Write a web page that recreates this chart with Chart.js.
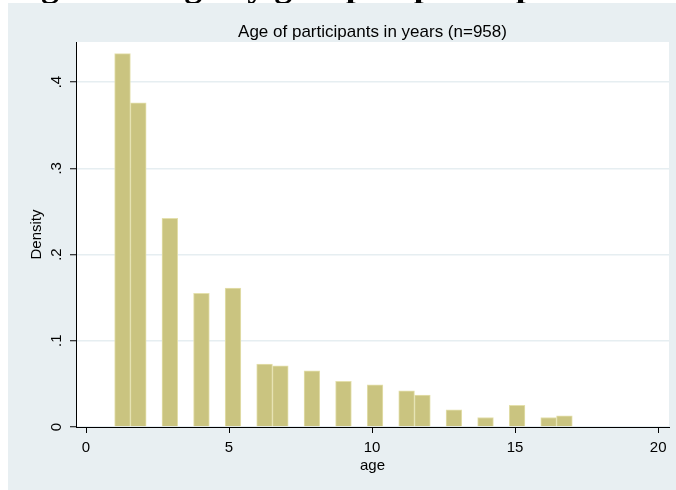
<!DOCTYPE html>
<html>
<head>
<meta charset="utf-8">
<script src="https://cdn.jsdelivr.net/npm/chart.js@4.4.1/dist/chart.umd.min.js"></script>
<style>
    html, body { margin: 0; padding: 0; background: #ffffff; }
</style>
</head>
<body>
<canvas id="graficoEdad" width="676" height="490"></canvas>
<script>
//Datos
const binStart = [1.000, 1.552, 2.655, 3.759, 4.862, 5.966, 6.517, 7.621, 8.724, 9.828, 10.931, 11.483, 12.586, 13.690, 14.793, 15.897, 16.448];
const binWidth = 0.552;
const density = [0.433, 0.376, 0.242, 0.155, 0.161, 0.073, 0.071, 0.065, 0.053, 0.049, 0.042, 0.037, 0.020, 0.011, 0.025, 0.011, 0.013];
const xTicks = [0, 5, 10, 15, 20];
const yTicks = [0, 0.1, 0.2, 0.3, 0.4];
const yTickLabels = ['0', '.1', '.2', '.3', '.4'];
const tituloFigura = 'Figure 1: Age by group of participants';
const subtitulo = 'Age of participants in years (n=958)';
const tituloX = 'age';
const tituloY = 'Density';

//Colores
const colorPanel = '#e8eff2';
const colorGrid = '#e6eef1';
const colorBarra = 'rgb(202, 196, 128)';
const colorBorde = 'rgb(228, 224, 172)';
const fuente = "'Liberation Sans', Arial, Helvetica, sans-serif";

//Plugin para fondo estilo Stata, subtitulo y etiquetas verticales del eje y
const pluginStata = {
    id: 'stata',
    beforeDraw(chart) {
        const { ctx, chartArea, width, height } = chart;
        ctx.save();
        ctx.fillStyle = '#ffffff';
        ctx.fillRect(0, 0, width, height);
        //titulo de la figura, cortado arriba
        ctx.fillStyle = '#000000';
        ctx.font = "bold 36px 'Liberation Serif', 'Times New Roman', serif";
        ctx.textAlign = 'left';
        ctx.textBaseline = 'alphabetic';
        ctx.fillText(tituloFigura, 9, -4);
        ctx.fillStyle = colorPanel;
        ctx.fillRect(8, 3, width - 8, height - 3);
        ctx.fillStyle = '#ffffff';
        ctx.fillRect(chartArea.left, chartArea.top, chartArea.right - chartArea.left, chartArea.bottom - chartArea.top);
        ctx.restore();
    },
    afterDraw(chart) {
        const { ctx, chartArea } = chart;
        const yScale = chart.scales.y;
        ctx.save();
        ctx.fillStyle = '#000000';
        ctx.font = '17px ' + fuente;
        ctx.textAlign = 'center';
        ctx.textBaseline = 'middle';
        ctx.fillText(subtitulo, (chartArea.left + chartArea.right) / 2, 32);

        ctx.font = '15px ' + fuente;
        ctx.textBaseline = 'alphabetic';
        yTicks.forEach((v, i) => {
            const y = yScale.getPixelForValue(v);
            ctx.save();
            ctx.translate(61, y);
            ctx.rotate(-Math.PI / 2);
            ctx.fillText(yTickLabels[i], 0, 0);
            ctx.restore();
        });
        ctx.restore();
    }
};

const datosBarras = binStart.map((inicio, i) => ({ x: inicio + binWidth / 2, y: density[i] }));

const config = {
    type: 'bar',
    data: {
        datasets: [{
            data: datosBarras,
            backgroundColor: colorBarra,
            borderColor: colorBorde,
            borderWidth: 1,
            borderSkipped: 'bottom',
            barPercentage: 1,
            categoryPercentage: 1
        }]
    },
    options: {
        responsive: false,
        devicePixelRatio: 1,
        animation: false,
        layout: {
            padding: { left: 8, right: 7, top: 42, bottom: 0 }
        },
        plugins: {
            legend: { display: false },
            tooltip: { enabled: false }
        },
        scales: {
            x: {
                type: 'linear',
                offset: false,
                min: -0.35,
                max: 20.38,
                afterBuildTicks: (scale) => { scale.ticks = xTicks.map(v => ({ value: v })); },
                afterFit: (scale) => { scale.height = 63; },
                grid: {
                    offset: false,
                    drawOnChartArea: false,
                    drawTicks: true,
                    tickLength: 6,
                    tickColor: '#000000',
                    tickWidth: 1
                },
                border: { color: '#000000', width: 1 },
                ticks: {
                    color: '#000000',
                    font: { family: fuente, size: 15 },
                    padding: 6,
                    maxRotation: 0,
                    callback: (v) => String(v)
                },
                title: {
                    display: true,
                    text: tituloX,
                    color: '#000000',
                    font: { family: fuente, size: 15 },
                    padding: { top: 0, bottom: 15 }
                }
            },
            y: {
                type: 'linear',
                min: 0,
                max: 0.4465,
                afterBuildTicks: (scale) => { scale.ticks = yTicks.map(v => ({ value: v })); },
                afterFit: (scale) => { scale.width = 68; },
                grid: {
                    color: colorGrid,
                    lineWidth: 1.5,
                    drawTicks: true,
                    tickLength: 6,
                    tickColor: '#000000',
                    tickWidth: 1
                },
                border: { color: '#000000', width: 1 },
                ticks: { display: false },
                title: {
                    display: true,
                    text: tituloY,
                    color: '#000000',
                    font: { family: fuente, size: 15 },
                    padding: { top: 20, bottom: 0 }
                }
            }
        }
    },
    plugins: [pluginStata]
};

new Chart(document.getElementById('graficoEdad'), config);
</script>
</body>
</html>
